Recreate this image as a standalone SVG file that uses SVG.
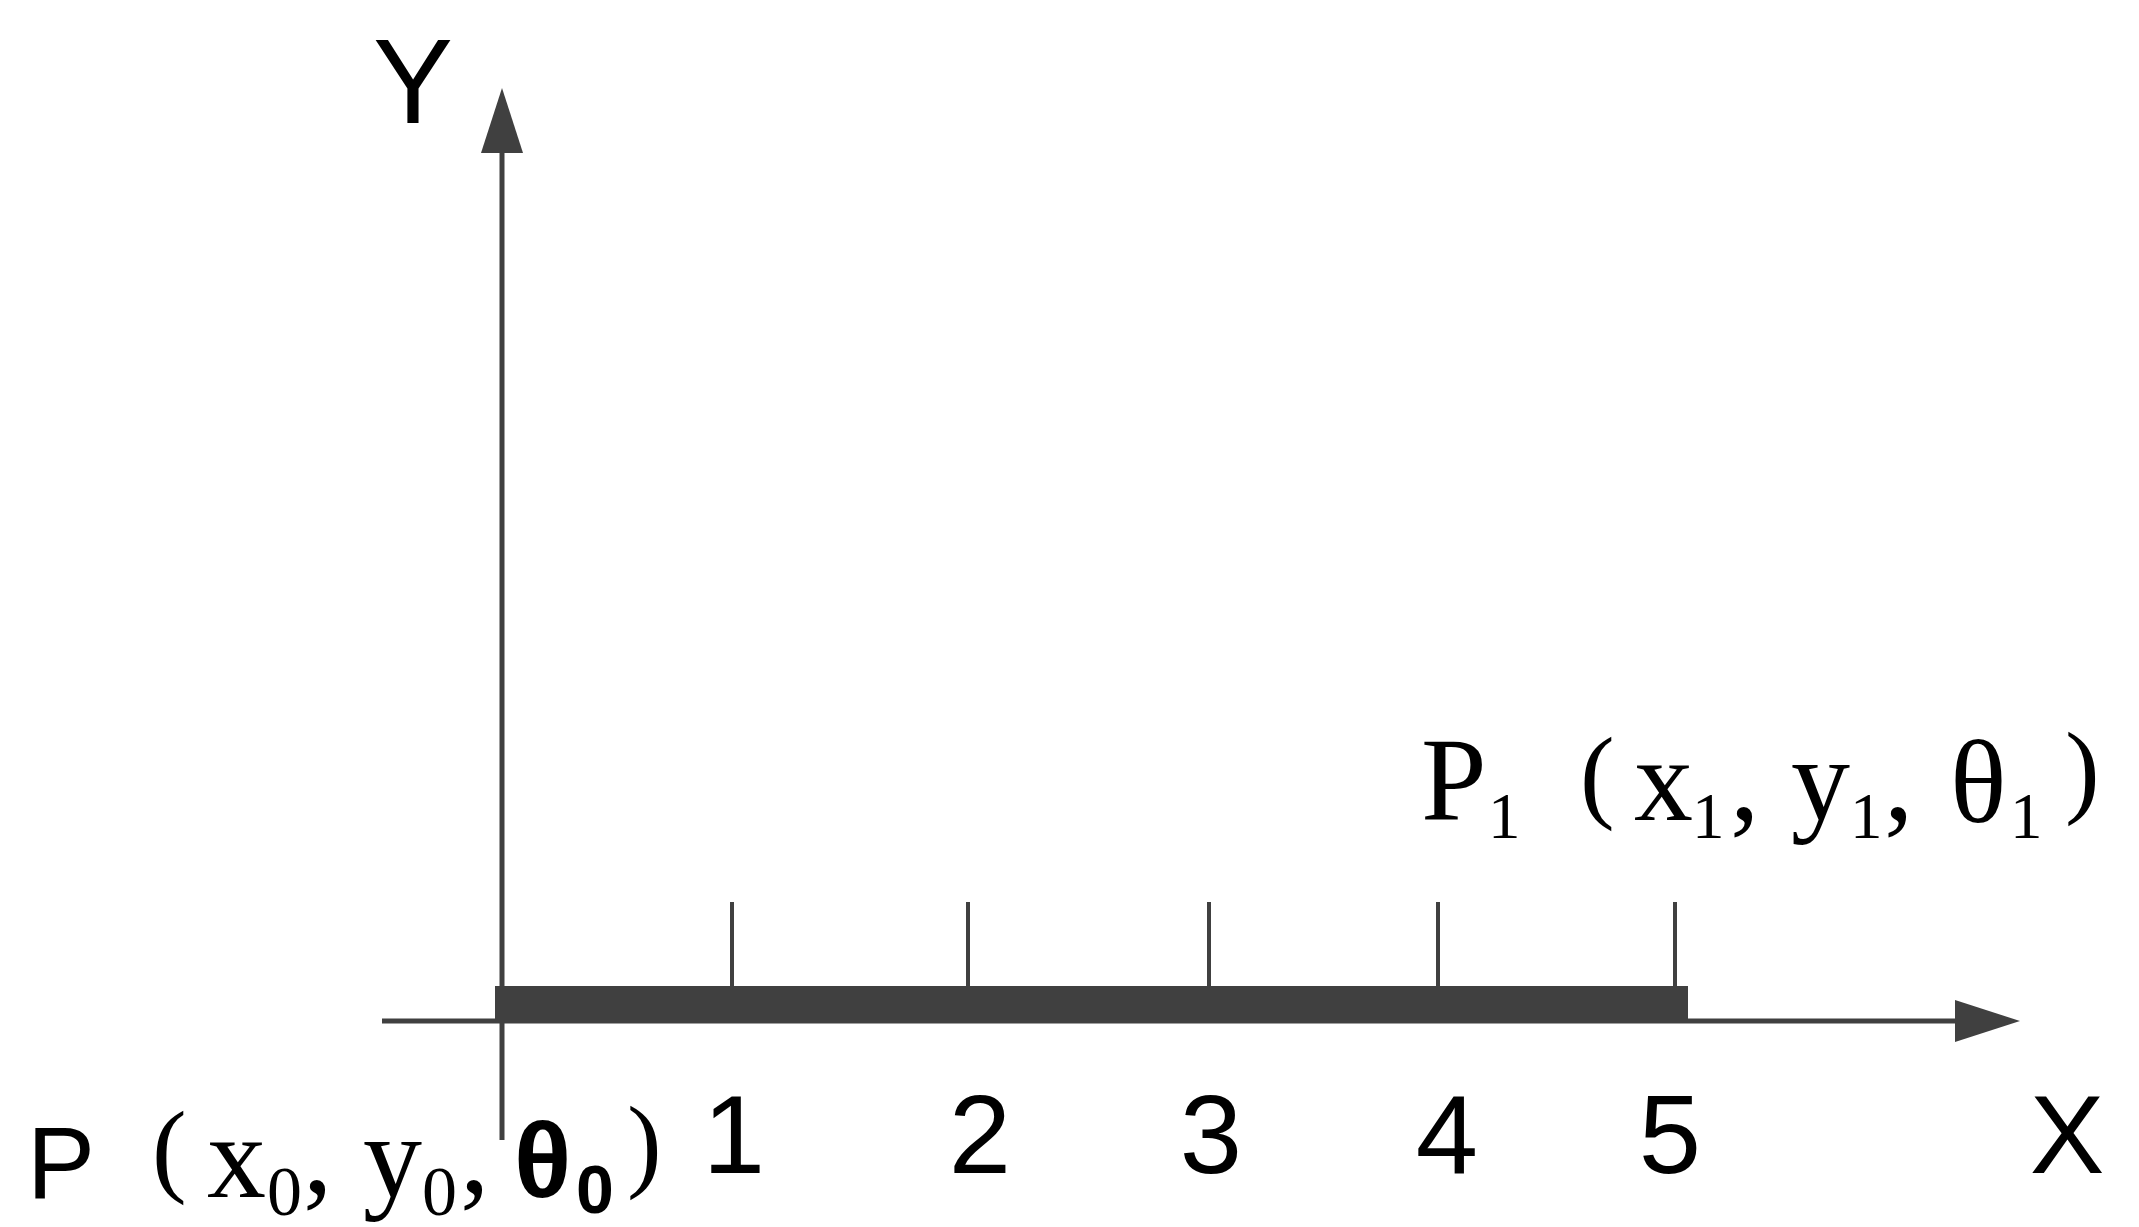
<svg xmlns="http://www.w3.org/2000/svg" width="2139" height="1227" viewBox="0 0 2139 1227">
<style>
  .axis { stroke: #404040; stroke-width: 5; fill: none; }
  .tick { stroke: #404040; stroke-width: 4; fill: none; }
  .bar { fill: #404040; }
  .sans { font-family: "Liberation Sans", Arial, sans-serif; fill: #000; }
  .serif { font-family: "Liberation Serif", "Times New Roman", serif; fill: #000; }
  .num { font-size: 112px; text-anchor: middle; }
  .big { font-size: 118px; }
  .sub { font-size: 65px; }
  .par { font-size: 104px; }
</style>
<defs>
  <marker id="arrow" viewBox="0 0 65 42" refX="0" refY="21" markerWidth="65" markerHeight="42" markerUnits="userSpaceOnUse" orient="auto">
    <path d="M0,0 L65,21 L0,42 Z" fill="#404040"/>
  </marker>
</defs>
<rect width="2139" height="1227" fill="#fff"/>
<g id="connectors">
  <line id="y-axis" class="axis" x1="502" y1="1140" x2="502" y2="153" marker-end="url(#arrow)"/>
  <line id="x-axis" class="axis" x1="382" y1="1021" x2="1955" y2="1021" marker-end="url(#arrow)"/>
</g>
<g id="segment">
  <rect class="bar" x="495" y="986" width="1193" height="36"/>
</g>
<g id="ticks">
  <line class="tick" x1="732" y1="902" x2="732" y2="1004"/>
  <line class="tick" x1="968" y1="902" x2="968" y2="1004"/>
  <line class="tick" x1="1209" y1="902" x2="1209" y2="1004"/>
  <line class="tick" x1="1438" y1="902" x2="1438" y2="1004"/>
  <line class="tick" x1="1675" y1="902" x2="1675" y2="1004"/>
</g>
<g id="axis-labels">
  <text class="sans" x="413" y="123" font-size="120" text-anchor="middle">Y</text>
  <text class="sans" x="2067" y="1173" font-size="112" text-anchor="middle">X</text>
</g>
<g id="tick-labels">
  <text class="sans num" x="734" y="1173">1</text>
  <text class="sans num" x="980" y="1173">2</text>
  <text class="sans num" x="1211" y="1173">3</text>
  <text class="sans num" x="1447" y="1173">4</text>
  <text class="sans num" x="1670" y="1173">5</text>
</g>
<g id="label-p0">
  <text class="sans" x="27" y="1198" font-size="102">P</text>
  <text class="serif par" x="152" y="1183">(</text>
  <text class="serif big" x="207" y="1197">x</text>
  <text class="serif" x="267" y="1215" font-size="70">0</text>
  <text class="serif big" x="303" y="1192">,</text>
  <text class="serif big" x="363" y="1197">y</text>
  <text class="serif" x="422" y="1215" font-size="70">0</text>
  <text class="serif big" x="460" y="1192">,</text>
  <text class="sans" x="514" y="1197" font-size="106" font-weight="bold">θ</text>
  <text class="sans" x="576" y="1213" font-size="68" font-weight="bold">0</text>
  <text class="serif par" x="627" y="1178">)</text>
</g>
<g id="label-p1">
  <text class="serif big" x="1421" y="820">P</text>
  <text class="serif sub" x="1488" y="838">1</text>
  <text class="serif par" x="1580" y="809">(</text>
  <text class="serif big" x="1634" y="820">x</text>
  <text class="serif sub" x="1692" y="838">1</text>
  <text class="serif big" x="1730" y="819">,</text>
  <text class="serif big" x="1791" y="820">y</text>
  <text class="serif sub" x="1850" y="838">1</text>
  <text class="serif big" x="1884" y="819">,</text>
  <text class="serif big" x="1950" y="822">θ</text>
  <text class="serif sub" x="2010" y="838">1</text>
  <text class="serif par" x="2065" y="804">)</text>
</g>
</svg>
